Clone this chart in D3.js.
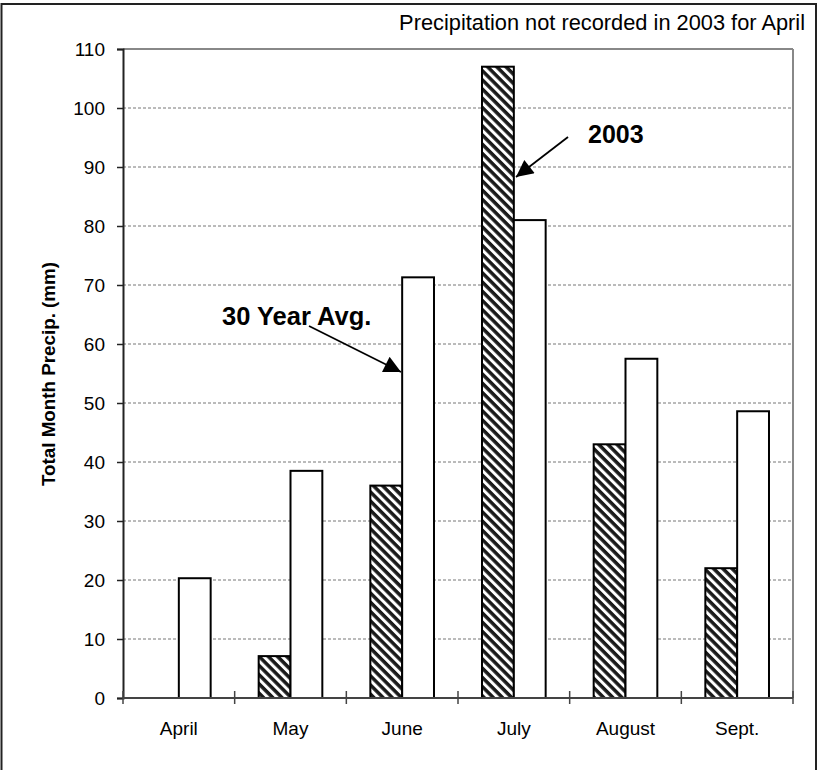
<!DOCTYPE html>
<html>
<head>
<meta charset="utf-8">
<script src="https://cdn.jsdelivr.net/npm/d3@7"></script>
<style>
  body { margin: 0; background: #fff; }
  svg { display: block; font-family: Arial, "Liberation Sans", sans-serif; }
</style>
</head>
<body>
<svg id="chart" width="818" height="770"></svg>
<script>
// Monthly precipitation totals (mm)
const months = ["April", "May", "June", "July", "August", "Sept."];
const precip2003 = [null, 7.1, 36, 107, 43, 22];   // April not recorded
const avg30 = [20.3, 38.5, 71.3, 81, 57.5, 48.6];
const yTicks = [0, 10, 20, 30, 40, 50, 60, 70, 80, 90, 100, 110];

const svg = d3.select("#chart");
const margin = { left: 123, right: 25, top: 49, bottom: 72 };
const W = 818, H = 770;
const innerW = W - margin.left - margin.right;
const innerH = H - margin.top - margin.bottom;
const FONT = "Arial, 'Liberation Sans', sans-serif";

// outer frame
svg.append("rect")
  .attr("x", 1.5).attr("y", 4).attr("width", 814.5).attr("height", 775)
  .attr("fill", "none").attr("stroke", "#222").attr("stroke-width", 2);

// diagonal hatch for the 2003 bars
const defs = svg.append("defs");
const pat = defs.append("pattern")
  .attr("id", "hatch").attr("patternUnits", "userSpaceOnUse")
  .attr("width", 6.5).attr("height", 6.5)
  .attr("patternTransform", "rotate(45)");
pat.append("rect").attr("width", 6.5).attr("height", 6.5).attr("fill", "#fff");
pat.append("rect").attr("width", 6.5).attr("height", 3.5).attr("fill", "#1a1a1a");

const g = svg.append("g").attr("transform", `translate(${margin.left},${margin.top})`);

const x = d3.scaleBand().domain(months).range([0, innerW]).padding(0);
const y = d3.scaleLinear().domain([0, 110]).range([innerH, 0]);

// gridlines
g.append("g").selectAll("line")
  .data(yTicks.filter(t => t > 0 && t < 110))
  .join("line")
  .attr("x1", 0).attr("x2", innerW)
  .attr("y1", d => y(d)).attr("y2", d => y(d))
  .attr("stroke", "#777").attr("stroke-width", 1)
  .attr("stroke-dasharray", "3,2");

// plot area top and right edges
g.append("line").attr("x1", 0).attr("x2", innerW).attr("y1", y(110)).attr("y2", y(110))
  .attr("stroke", "#888").attr("stroke-width", 2);
g.append("line").attr("x1", innerW).attr("x2", innerW).attr("y1", y(110)).attr("y2", y(0))
  .attr("stroke", "#888").attr("stroke-width", 2);

const barW = x.bandwidth() * 0.285;

// 2003 bars
g.append("g").selectAll("rect")
  .data(months.map((m, i) => ({ m, v: precip2003[i] })).filter(d => d.v != null))
  .join("rect")
  .attr("x", d => x(d.m) + x.bandwidth() / 2 - barW)
  .attr("y", d => y(d.v))
  .attr("width", barW)
  .attr("height", d => y(0) - y(d.v))
  .attr("fill", "url(#hatch)")
  .attr("stroke", "#000").attr("stroke-width", 2);

// 30-year average bars
g.append("g").selectAll("rect")
  .data(months.map((m, i) => ({ m, v: avg30[i] })))
  .join("rect")
  .attr("x", d => x(d.m) + x.bandwidth() / 2)
  .attr("y", d => y(d.v))
  .attr("width", barW)
  .attr("height", d => y(0) - y(d.v))
  .attr("fill", "#fff")
  .attr("stroke", "#000").attr("stroke-width", 2);

// y axis
const yAxis = g.append("g")
  .call(d3.axisLeft(y).tickValues(yTicks).tickSize(6).tickPadding(12));
yAxis.select(".domain").attr("stroke", "#222").attr("stroke-width", 2);
yAxis.selectAll(".tick line").attr("stroke", "#222").attr("stroke-width", 1.5);
yAxis.selectAll(".tick text").attr("font-size", 19).attr("fill", "#000")
  .attr("font-family", FONT);

// x axis: baseline and category boundary ticks
g.append("line").attr("x1", 0).attr("x2", innerW).attr("y1", y(0)).attr("y2", y(0))
  .attr("stroke", "#444").attr("stroke-width", 2);
const bounds = months.map(m => x(m)).concat([innerW]);
g.append("g").selectAll("line").data(bounds).join("line")
  .attr("x1", d => d).attr("x2", d => d)
  .attr("y1", y(0) - 7).attr("y2", y(0) + 6)
  .attr("stroke", "#444").attr("stroke-width", 1.5);
g.append("g").selectAll("text").data(months).join("text")
  .attr("x", d => x(d) + x.bandwidth() / 2)
  .attr("y", y(0) + 37)
  .attr("text-anchor", "middle")
  .attr("font-size", 19)
  .text(d => d);

// y axis title
svg.append("text")
  .attr("transform", "translate(55,374) rotate(-90)")
  .attr("text-anchor", "middle")
  .attr("font-size", 18.8).attr("font-weight", "bold")
  .text("Total Month Precip. (mm)");

// note
svg.append("text")
  .attr("x", 805).attr("y", 30)
  .attr("text-anchor", "end")
  .attr("font-size", 21.8)
  .text("Precipitation not recorded in 2003 for April");

// annotations with arrows
defs.append("marker")
  .attr("id", "arrow").attr("viewBox", "0 0 10 10")
  .attr("refX", 10).attr("refY", 5)
  .attr("markerWidth", 21).attr("markerHeight", 17)
  .attr("markerUnits", "userSpaceOnUse")
  .attr("orient", "auto")
  .append("path").attr("d", "M0,0 L10,5 L0,10 Z").attr("fill", "#000");

svg.append("text").attr("x", 588).attr("y", 143)
  .attr("font-size", 25).attr("font-weight", "bold").text("2003");
svg.append("line").attr("x1", 568).attr("y1", 137).attr("x2", 516).attr("y2", 177)
  .attr("stroke", "#000").attr("stroke-width", 1.8).attr("marker-end", "url(#arrow)");

svg.append("text").attr("x", 222).attr("y", 325)
  .attr("font-size", 25.5).attr("font-weight", "bold").text("30 Year Avg.");
svg.append("line").attr("x1", 309).attr("y1", 326).attr("x2", 401).attr("y2", 372)
  .attr("stroke", "#000").attr("stroke-width", 1.8).attr("marker-end", "url(#arrow)");
</script>
</body>
</html>
